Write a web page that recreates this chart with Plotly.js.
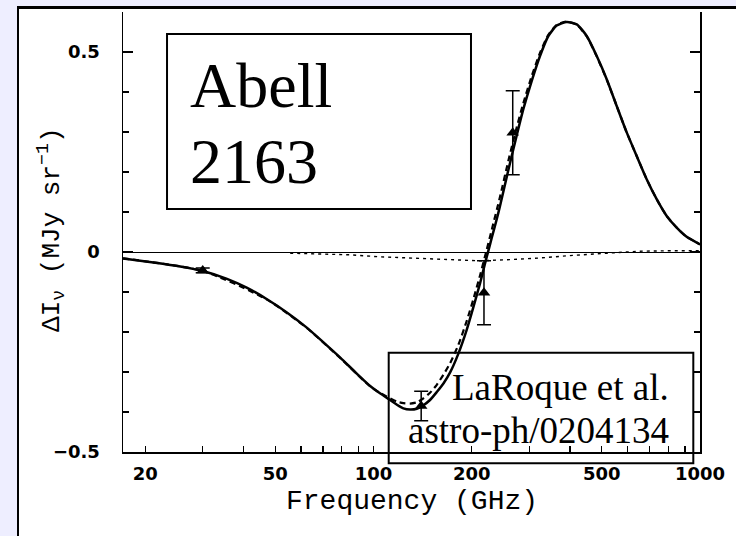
<!DOCTYPE html>
<html><head><meta charset="utf-8">
<script src="https://cdn.plot.ly/plotly-3.0.1.min.js"></script>
<style>
html,body{margin:0;padding:0;background:#eeeeff;width:736px;height:536px;overflow:hidden;}
#frame{position:absolute;left:17px;top:6px;width:717px;height:527px;background:#fff;border-top:3px solid #000;border-left:2px solid #000;}
#chart{width:717px;height:527px;}
</style></head><body>
<div id="frame"><div id="chart"></div></div>
<script>
// ---- data (frequency in GHz, ΔI in MJy/sr) ----
const freqSolid = [17.1, 21.2, 25.6, 30.2, 35.6, 40.9, 47.2, 54.3, 62.5, 70.3, 79.1, 88.9, 97.7, 105, 112.5, 118, 123.5, 129.5, 135.7, 142.2, 149, 156.3, 164, 171.7, 182, 193.1, 202.3, 212.1, 219.7, 225, 230.2, 238.5, 244.1, 258.9, 274.7, 287.7, 305.3, 323.6, 343.2, 364.1, 390.7, 419.3, 449.9, 482.8, 518, 555.8, 596.4, 639.9, 686.6, 736.8, 790.7, 848.3, 910.3, 1000];
const solidVals = [-0.016, -0.026, -0.036, -0.048, -0.067, -0.089, -0.118, -0.151, -0.189, -0.226, -0.264, -0.304, -0.335, -0.354, -0.370, -0.382, -0.391, -0.394, -0.392, -0.383, -0.370, -0.350, -0.328, -0.301, -0.254, -0.194, -0.138, -0.078, -0.028, 0.004, 0.035, 0.082, 0.115, 0.205, 0.292, 0.357, 0.428, 0.490, 0.540, 0.566, 0.575, 0.569, 0.540, 0.490, 0.432, 0.365, 0.299, 0.240, 0.182, 0.132, 0.090, 0.061, 0.038, 0.019];

const freqDashed = [17.1, 30.2, 47.2, 62.5, 79.1, 97.7, 105, 112.5, 118, 123.5, 129.5, 135.7, 142.2, 149, 156.3, 164, 171.7, 182, 193.1, 202.3, 212.1, 219.7, 230.2, 244.1, 258.9, 274.7, 287.7, 305.3, 323.6, 343.2, 364.1, 390.7, 419.3, 449.9, 482.8, 518, 555.8, 596.4, 639.9, 686.6, 736.8, 790.7, 848.3, 910.3, 1000];
const dashedVals = [-0.016, -0.048, -0.119, -0.190, -0.265, -0.336, -0.353, -0.366, -0.374, -0.378, -0.379, -0.376, -0.366, -0.352, -0.332, -0.306, -0.278, -0.232, -0.172, -0.118, -0.058, -0.010, 0.055, 0.138, 0.228, 0.312, 0.372, 0.440, 0.498, 0.543, 0.568, 0.576, 0.568, 0.539, 0.489, 0.431, 0.365, 0.299, 0.240, 0.182, 0.132, 0.090, 0.061, 0.038, 0.019];

const freqDotted = [55.6, 73.6, 84.6, 104.4, 129.5, 159.9, 211.6, 261.6, 323, 399, 492, 536, 600, 650, 800, 1000];
const dottedVals = [-0.003, -0.005, -0.007, -0.012, -0.015, -0.018, -0.022, -0.019, -0.015, -0.009, -0.005, -0.003, -0.001, 0.002, 0.003, 0.003];

const pointFreq = [30, 140, 218, 267];
const pointVals = [-0.046, -0.385, -0.102, 0.298];
const pointErr  = [0.006, 0.037, 0.080, 0.105];

// ---- axis ticks ----
const xTickVals = [20, 50, 100, 200, 500, 1000];
const xTickText = ['20', '50', '100', '200', '500', '1000'];
const xMinorVals = [30, 40, 60, 70, 80, 90, 300, 400, 600, 700, 800, 900];
const xDecadeVals = [100, 1000];
const yTickVals = [-0.5, 0, 0.5];
const yTickText = ['\u22120.5', '0', '0.5'];
const yMinorVals = [-0.4, -0.3, -0.2, -0.1, 0.1, 0.2, 0.3, 0.4];
// top axis: wavelength ticks (mm), placed at c/λ
const C_MM_GHZ = 299.79;
const topMajorMm = [10, 1];
const topMinorMm = [9, 8, 7, 6, 5, 4, 3, 2, 0.9, 0.8, 0.7, 0.6, 0.5, 0.4];

const xTitle = 'Frequency (GHz)';
const yTitle = '\u0394I<sub>\u03bd</sub> (MJy sr<sup>\u22121</sup>)';

const xRange = [Math.log10(17.1), 3];
const tickFont = {family: 'DejaVu Sans', size: 18, weight: 'bold', color: '#000'};
const titleFont = {family: 'Liberation Mono', color: '#000'};

const traces = [
  {x: freqDotted, y: dottedVals, mode: 'lines', line: {color: '#000', width: 1.4, dash: '3px,4px'}, hoverinfo: 'skip'},
  {x: freqDashed, y: dashedVals, mode: 'lines', line: {color: '#000', width: 2.2, dash: '6px,4px', shape: 'spline', smoothing: 0.6}, hoverinfo: 'skip'},
  {x: freqSolid, y: solidVals, mode: 'lines', line: {color: '#000', width: 2.5, shape: 'spline', smoothing: 0.6}, hoverinfo: 'skip'},
  {x: pointFreq, y: pointVals, mode: 'markers', marker: {symbol: 'triangle-up', size: 11, color: '#000'},
   error_y: {type: 'data', array: pointErr, visible: true, color: '#000', thickness: 1.5, width: 7}, hoverinfo: 'skip'}
];

const layout = {
  width: 717, height: 527,
  margin: {l: 104, r: 36, t: 3, b: 84},
  paper_bgcolor: '#fff', plot_bgcolor: '#fff',
  showlegend: false,
  xaxis: {
    type: 'log', range: xRange, showline: true, linecolor: '#000', linewidth: 1.5,
    ticks: 'inside', ticklen: 6, tickwidth: 1.3, tickcolor: '#000',
    tickmode: 'array', tickvals: xTickVals, ticktext: xTickText, tickfont: tickFont,
    ticklabelstandoff: 5, showgrid: false, zeroline: false,
    minor: {tickmode: 'array', tickvals: xMinorVals, ticks: 'inside', ticklen: 6, tickwidth: 1.3, tickcolor: '#000', showgrid: false}
  },
  xaxis2: {
    type: 'log', range: xRange, overlaying: 'x', side: 'top', anchor: 'y',
    showline: true, linecolor: '#000', linewidth: 1.5,
    ticks: 'inside', ticklen: 11, tickwidth: 1.3, tickcolor: '#000',
    tickmode: 'array', tickvals: topMajorMm.map(l => C_MM_GHZ / l), showticklabels: false,
    minor: {tickmode: 'array', tickvals: topMinorMm.map(l => C_MM_GHZ / l), ticks: 'inside', ticklen: 8, tickwidth: 1.3, tickcolor: '#000', showgrid: false},
    showgrid: false, zeroline: false
  },
  xaxis3: {
    type: 'log', range: xRange, overlaying: 'x', side: 'bottom', anchor: 'y',
    showline: false, ticks: 'inside', ticklen: 11, tickwidth: 1.3, tickcolor: '#000',
    tickmode: 'array', tickvals: xDecadeVals, showticklabels: false, showgrid: false, zeroline: false
  },
  yaxis: {
    range: [-0.5, 0.6], showline: true, linecolor: '#000', linewidth: 1.5, mirror: 'allticks',
    ticks: 'inside', ticklen: 10, tickwidth: 1.3, tickcolor: '#000',
    tickmode: 'array', tickvals: yTickVals, ticktext: yTickText, tickfont: tickFont,
    ticklabelstandoff: 18, showgrid: false,
    zeroline: true, zerolinecolor: '#000', zerolinewidth: 1,
    minor: {tickmode: 'array', tickvals: yMinorVals, ticks: 'inside', ticklen: 6, tickwidth: 1.3, tickcolor: '#000', showgrid: false}
  },
  shapes: [
    {type: 'rect', xref: 'paper', yref: 'paper', x0: 0.0763, x1: 0.6031, y0: 0.5523, y1: 0.95, line: {color: '#000', width: 2}, fillcolor: 'rgba(0,0,0,0)', layer: 'above'},
    {type: 'rect', xref: 'paper', yref: 'paper', x0: 0.4605, x1: 0.9884, y0: -0.0257, y1: 0.2257, line: {color: '#000', width: 2}, fillcolor: 'rgba(0,0,0,0)', layer: 'above'}
  ],
  annotations: [
    {text: xTitle, xref: 'paper', yref: 'paper', x: 0.5, y: -0.113, xanchor: 'center', yanchor: 'middle', showarrow: false, font: Object.assign({size: 28}, titleFont)},
    {text: yTitle, xref: 'paper', yref: 'paper', x: -0.125, y: 0.5045, xanchor: 'center', yanchor: 'middle', textangle: -90, showarrow: false, font: Object.assign({size: 26}, titleFont)},
    {text: 'Abell', xref: 'paper', yref: 'paper', x: 0.1132, y: 0.8332, xanchor: 'left', yanchor: 'middle', showarrow: false, font: {family: 'Liberation Serif', size: 64, color: '#000'}},
    {text: '2163', xref: 'paper', yref: 'paper', x: 0.1132, y: 0.6611, xanchor: 'left', yanchor: 'middle', showarrow: false, font: {family: 'Liberation Serif', size: 64, color: '#000'}},
    {text: 'LaRoque et al.', xref: 'paper', yref: 'paper', x: 0.9489, y: 0.1473, xanchor: 'right', yanchor: 'middle', showarrow: false, font: {family: 'Liberation Serif', size: 37, color: '#000'}},
    {text: 'astro-ph/0204134', xref: 'paper', yref: 'paper', x: 0.9489, y: 0.0489, xanchor: 'right', yanchor: 'middle', showarrow: false, font: {family: 'Liberation Serif', size: 37, color: '#000'}}
  ]
};

Plotly.newPlot('chart', traces, layout, {displayModeBar: false, staticPlot: true});
</script></body></html>
